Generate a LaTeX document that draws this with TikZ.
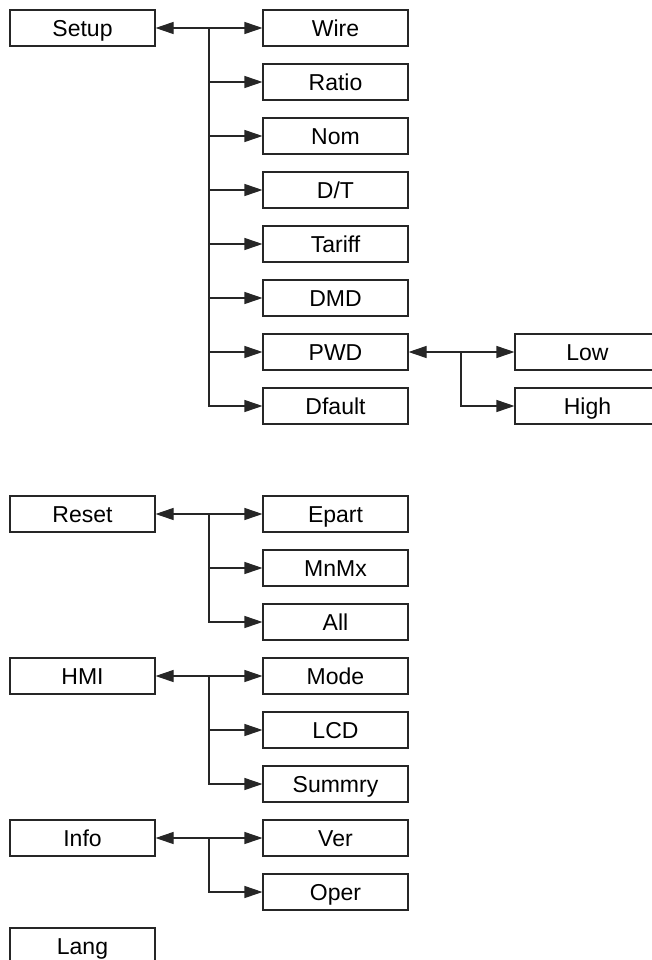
\documentclass[tikz,border=0pt]{standalone}
\usepackage{fontspec}
\setmainfont{Liberation Sans}
\usetikzlibrary{arrows.meta}
\begin{document}
\begin{tikzpicture}[x=1pt,y=-1pt,
  box/.style={draw=black!85,line width=1.1pt,minimum width=145pt,minimum height=36pt,inner sep=0pt,text height=16.5pt,text depth=0pt,font=\fontsize{23}{23}\selectfont,fill=white},
  conn/.style={line width=1.1pt,draw=black!85},
  tip/.style={-{Triangle[length=18pt,width=12pt]}},
  bitip/.style={{Triangle[length=18pt,width=12pt]}-{Triangle[length=18pt,width=12pt]}}]
\useasboundingbox (0,0) rectangle (652,960);
\begin{scope}
\clip (0,0) rectangle (652,960);
% left column
\node[box] (setup) at (82.5,28) {Setup};
\node[box] (reset) at (82.5,514) {Reset};
\node[box] (hmi) at (82.5,676) {HMI};
\node[box] (info) at (82.5,838) {Info};
\node[box] (lang) at (82.5,946) {Lang};
% middle column
\node[box] (wire) at (335.5,28) {Wire};
\node[box] (ratio) at (335.5,82) {Ratio};
\node[box] (nom) at (335.5,136) {Nom};
\node[box] (dt) at (335.5,190) {D/T};
\node[box] (tariff) at (335.5,244) {Tariff};
\node[box] (dmd) at (335.5,298) {DMD};
\node[box] (pwd) at (335.5,352) {PWD};
\node[box] (dfault) at (335.5,406) {Dfault};
\node[box] (epart) at (335.5,514) {Epart};
\node[box] (mnmx) at (335.5,568) {MnMx};
\node[box] (all) at (335.5,622) {All};
\node[box] (mode) at (335.5,676) {Mode};
\node[box] (lcd) at (335.5,730) {LCD};
\node[box] (summry) at (335.5,784) {Summry};
\node[box] (ver) at (335.5,838) {Ver};
\node[box] (oper) at (335.5,892) {Oper};
% right column
\node[box] (low) at (587.5,352) {Low};
\node[box] (high) at (587.5,406) {High};
% branch points
\coordinate (b1) at (209,28);
\coordinate (b2) at (461,352);
\coordinate (b3) at (209,514);
\coordinate (b4) at (209,676);
\coordinate (b5) at (209,838);
% setup
\draw[conn,bitip] (setup) -- (wire);
\foreach \c in {ratio,nom,dt,tariff,dmd,pwd,dfault}
  \draw[conn,tip] (b1) |- (\c.west);
% pwd
\draw[conn,bitip] (pwd) -- (low);
\draw[conn,tip] (b2) |- (high.west);
% reset
\draw[conn,bitip] (reset) -- (epart);
\foreach \c in {mnmx,all}
  \draw[conn,tip] (b3) |- (\c.west);
% hmi
\draw[conn,bitip] (hmi) -- (mode);
\foreach \c in {lcd,summry}
  \draw[conn,tip] (b4) |- (\c.west);
% info
\draw[conn,bitip] (info) -- (ver);
\draw[conn,tip] (b5) |- (oper.west);
\end{scope}
\end{tikzpicture}
\end{document}
